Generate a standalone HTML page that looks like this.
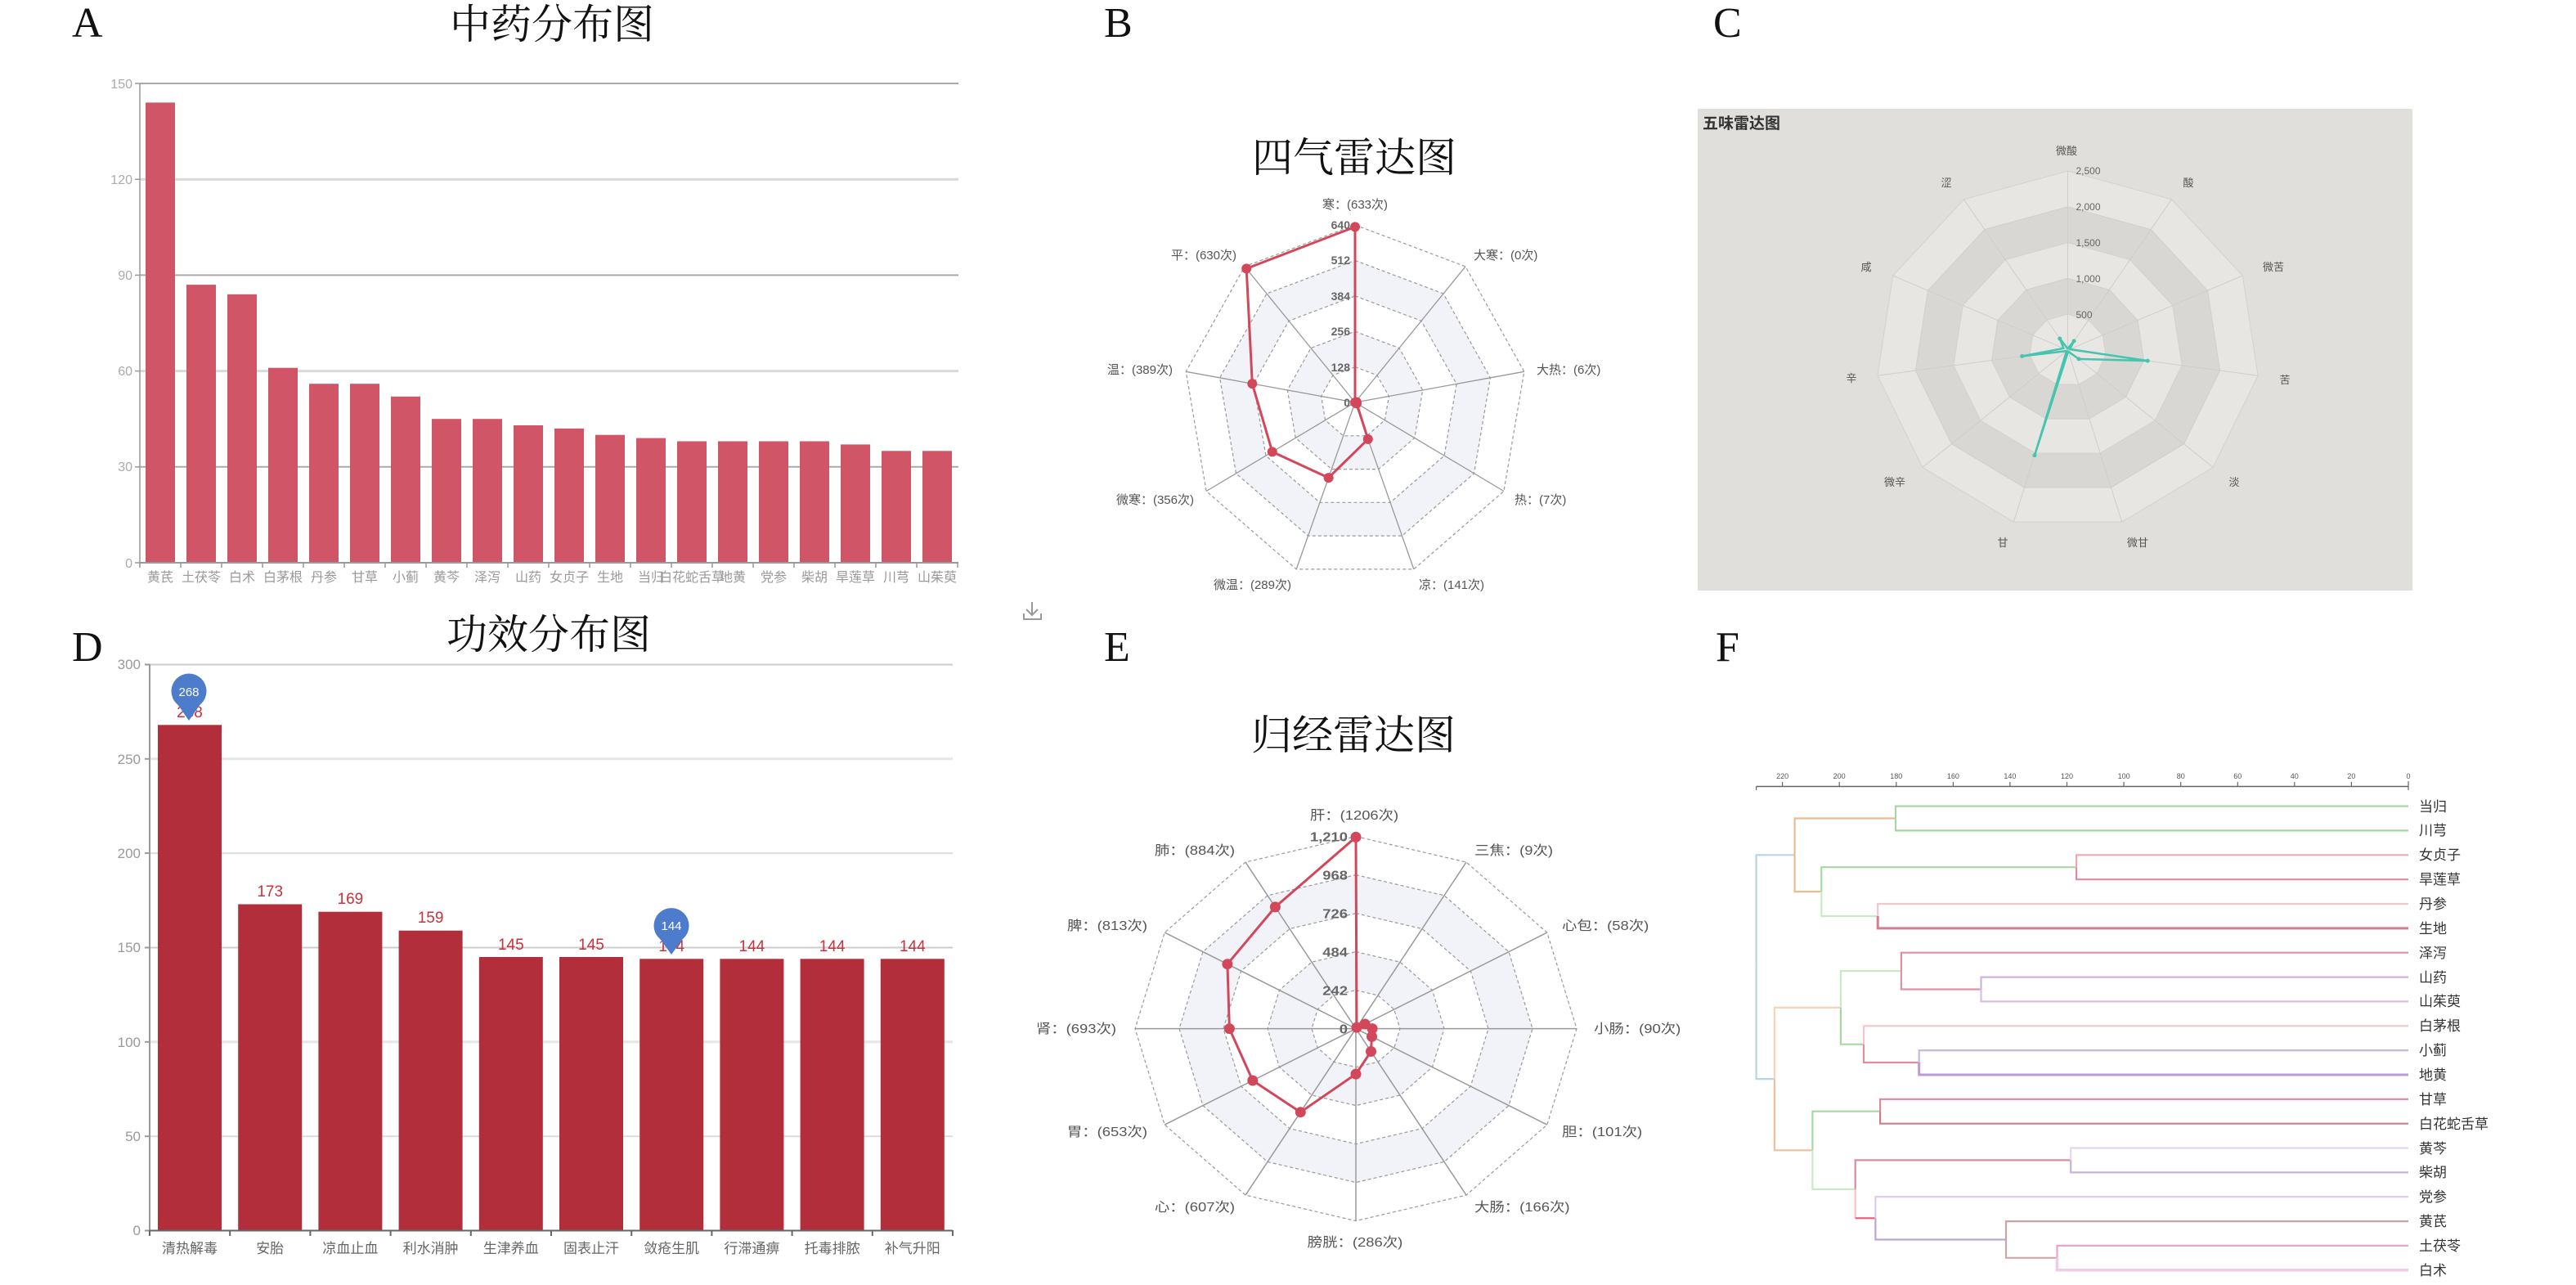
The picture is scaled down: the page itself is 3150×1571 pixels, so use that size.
<!DOCTYPE html>
<html><head><meta charset="utf-8"><style>
html,body{margin:0;padding:0;background:#fff;}
svg{display:block;}
.s{font-family:"Liberation Sans","Noto Sans CJK SC",sans-serif;}
.t{font-family:"Liberation Serif","Noto Serif CJK SC",serif;}
</style></head><body>
<svg width="3150" height="1571" viewBox="0 0 3150 1571" xmlns="http://www.w3.org/2000/svg">
<rect width="3150" height="1571" fill="#fff"/>

<!-- Panel letters -->
<g class="t" font-size="52" fill="#111">
<text x="88" y="45">A</text>
<text x="1350" y="45">B</text>
<text x="2095" y="45">C</text>
<text x="88" y="808">D</text>
<text x="1350" y="808">E</text>
<text x="2098" y="808">F</text>
</g>
<!-- Titles -->
<g class="t" font-size="50" fill="#111" text-anchor="middle">
<text x="675" y="47">中药分布图</text>
<text x="1656" y="210">四气雷达图</text>
<text x="671" y="793">功效分布图</text>
<text x="1655" y="916">归经雷达图</text>
</g>

<!-- ================= PANEL A ================= -->
<g>
<line x1="171" y1="102" x2="1172" y2="102" stroke="#aaa" stroke-width="2"/>
<line x1="171" y1="219.2" x2="1172" y2="219.2" stroke="#d9d9d9" stroke-width="3"/>
<line x1="171" y1="336.4" x2="1172" y2="336.4" stroke="#aaa" stroke-width="2"/>
<line x1="171" y1="453.6" x2="1172" y2="453.6" stroke="#d9d9d9" stroke-width="3"/>
<line x1="171" y1="570.8" x2="1172" y2="570.8" stroke="#aaa" stroke-width="2"/>
<g stroke="#999" stroke-width="1.5">
<line x1="171" y1="102" x2="171" y2="690"/>
<line x1="165" y1="102" x2="171" y2="102"/><line x1="165" y1="219.2" x2="171" y2="219.2"/>
<line x1="165" y1="336.4" x2="171" y2="336.4"/><line x1="165" y1="453.6" x2="171" y2="453.6"/>
<line x1="165" y1="570.8" x2="171" y2="570.8"/><line x1="165" y1="688" x2="171" y2="688"/>
</g>
<g class="s" font-size="16" fill="#aaa" text-anchor="end">
<text x="162" y="108">150</text><text x="162" y="225">120</text><text x="162" y="342">90</text>
<text x="162" y="459">60</text><text x="162" y="576">30</text><text x="162" y="694">0</text>
</g>
<g fill="#d05566">
<rect x="178" y="125.4" width="36" height="562.6"/>
<rect x="228" y="348.1" width="36" height="339.9"/>
<rect x="278" y="359.8" width="36" height="328.2"/>
<rect x="328" y="449.7" width="36" height="238.3"/>
<rect x="378" y="469.2" width="36" height="218.8"/>
<rect x="428" y="469.2" width="36" height="218.8"/>
<rect x="478" y="484.8" width="36" height="203.2"/>
<rect x="528" y="512.2" width="36" height="175.8"/>
<rect x="578" y="512.2" width="36" height="175.8"/>
<rect x="628" y="520" width="36" height="168"/>
<rect x="678" y="523.9" width="36" height="164.1"/>
<rect x="728" y="531.7" width="36" height="156.3"/>
<rect x="778" y="535.6" width="36" height="152.4"/>
<rect x="828" y="539.5" width="36" height="148.5"/>
<rect x="878" y="539.5" width="36" height="148.5"/>
<rect x="928" y="539.5" width="36" height="148.5"/>
<rect x="978" y="539.5" width="36" height="148.5"/>
<rect x="1028" y="543.4" width="36" height="144.6"/>
<rect x="1078" y="551.3" width="36" height="136.7"/>
<rect x="1128" y="551.3" width="36" height="136.7"/>
</g>
<line x1="171" y1="688" x2="1172" y2="688" stroke="#999" stroke-width="2"/>
<g stroke="#999" stroke-width="1.5">
<line x1="171" y1="688" x2="171" y2="694"/><line x1="221" y1="688" x2="221" y2="694"/><line x1="271" y1="688" x2="271" y2="694"/><line x1="321" y1="688" x2="321" y2="694"/><line x1="371" y1="688" x2="371" y2="694"/><line x1="421" y1="688" x2="421" y2="694"/><line x1="471" y1="688" x2="471" y2="694"/><line x1="521" y1="688" x2="521" y2="694"/><line x1="571" y1="688" x2="571" y2="694"/><line x1="621" y1="688" x2="621" y2="694"/><line x1="671" y1="688" x2="671" y2="694"/><line x1="721" y1="688" x2="721" y2="694"/><line x1="771" y1="688" x2="771" y2="694"/><line x1="821" y1="688" x2="821" y2="694"/><line x1="871" y1="688" x2="871" y2="694"/><line x1="921" y1="688" x2="921" y2="694"/><line x1="971" y1="688" x2="971" y2="694"/><line x1="1021" y1="688" x2="1021" y2="694"/><line x1="1071" y1="688" x2="1071" y2="694"/><line x1="1121" y1="688" x2="1121" y2="694"/><line x1="1171" y1="688" x2="1171" y2="694"/>
</g>
<g class="s" font-size="16" fill="#999" text-anchor="middle">
<text x="196" y="711">黄芪</text><text x="246" y="711">土茯苓</text><text x="296" y="711">白术</text>
<text x="346" y="711">白茅根</text><text x="396" y="711">丹参</text><text x="446" y="711">甘草</text>
<text x="496" y="711">小蓟</text><text x="546" y="711">黄芩</text><text x="596" y="711">泽泻</text>
<text x="646" y="711">山药</text><text x="696" y="711">女贞子</text><text x="746" y="711">生地</text>
<text x="796" y="711">当归</text><text x="846" y="711">白花蛇舌草</text><text x="896" y="711">地黄</text>
<text x="946" y="711">党参</text><text x="996" y="711">柴胡</text><text x="1046" y="711">旱莲草</text>
<text x="1096" y="711">川芎</text><text x="1146" y="711">山茱萸</text>
</g>
</g>

<!-- ================= PANEL B ================= -->
<g transform="translate(1657,492)">
<polygon points="0,-217 135,-166.2 206.8,-37.7 181.9,108.5 71.8,203.9 -71.8,203.9 -181.9,108.5 -206.8,-37.7 -135,-166.2" fill="#fff" stroke="#999" stroke-width="1.2" stroke-dasharray="4,3"/>
<polygon points="0,-173.6 108,-133 165.4,-30.2 145.5,86.8 57.4,163.1 -57.4,163.1 -145.5,86.8 -165.4,-30.2 -108,-133" fill="#f2f3f9" stroke="#999" stroke-width="1.2" stroke-dasharray="4,3"/>
<polygon points="0,-130.2 81,-99.7 124.1,-22.6 109.1,65.1 43.1,122.3 -43.1,122.3 -109.1,65.1 -124.1,-22.6 -81,-99.7" fill="#fff" stroke="#999" stroke-width="1.2" stroke-dasharray="4,3"/>
<polygon points="0,-86.8 54,-66.5 82.7,-15.1 72.8,43.4 28.7,81.6 -28.7,81.6 -72.8,43.4 -82.7,-15.1 -54,-66.5" fill="#f2f3f9" stroke="#999" stroke-width="1.2" stroke-dasharray="4,3"/>
<polygon points="0,-43.4 27,-33.2 41.4,-7.5 36.4,21.7 14.4,40.8 -14.4,40.8 -36.4,21.7 -41.4,-7.5 -27,-33.2" fill="#fff" stroke="#999" stroke-width="1.2" stroke-dasharray="4,3"/>
<g stroke="#999" stroke-width="1.3">
<line x1="0" y1="0" x2="0" y2="-217"/><line x1="0" y1="0" x2="135" y2="-166.2"/><line x1="0" y1="0" x2="206.8" y2="-37.7"/>
<line x1="0" y1="0" x2="181.9" y2="108.5"/><line x1="0" y1="0" x2="71.8" y2="203.9"/><line x1="0" y1="0" x2="-71.8" y2="203.9"/>
<line x1="0" y1="0" x2="-181.9" y2="108.5"/><line x1="0" y1="0" x2="-206.8" y2="-37.7"/><line x1="0" y1="0" x2="-135" y2="-166.2"/>
</g>
<g class="s" font-size="14" font-weight="bold" fill="#666" text-anchor="end">
<text x="-6" y="5">0</text><text x="-6" y="-38">128</text><text x="-6" y="-82">256</text>
<text x="-6" y="-125">384</text><text x="-6" y="-169">512</text><text x="-6" y="-212">640</text>
</g>
<polygon points="0,-214.6 0,0 1.9,-0.4 2,1.2 15.8,44.9 -32.4,92.1 -101.2,60.4 -125.7,-22.9 -132.8,-163.6" fill="none" stroke="#d2485a" stroke-width="3" stroke-linejoin="round"/>
<g fill="#d2485a">
<circle cx="0" cy="-214.6" r="6"/><circle cx="0" cy="0" r="6"/><circle cx="1.9" cy="-0.4" r="6"/><circle cx="2" cy="1.2" r="6"/>
<circle cx="15.8" cy="44.9" r="6"/><circle cx="-32.4" cy="92.1" r="6"/><circle cx="-101.2" cy="60.4" r="6"/>
<circle cx="-125.7" cy="-22.9" r="6"/><circle cx="-132.8" cy="-163.6" r="6"/>
</g>
</g>
<g class="s" font-size="15" fill="#555">
<text x="1657" y="255" text-anchor="middle">寒：(633次)</text>
<text x="1802" y="317">大寒：(0次)</text>
<text x="1879" y="457">大热：(6次)</text>
<text x="1852" y="616">热：(7次)</text>
<text x="1735" y="720">凉：(141次)</text>
<text x="1579" y="720" text-anchor="end">微温：(289次)</text>
<text x="1460" y="616" text-anchor="end">微寒：(356次)</text>
<text x="1434" y="457" text-anchor="end">温：(389次)</text>
<text x="1512" y="317" text-anchor="end">平：(630次)</text>
</g>

<!-- download icon -->
<g stroke="#999" stroke-width="2" fill="none">
<line x1="1262" y1="736" x2="1262" y2="752"/>
<polyline points="1255,745 1262,752 1269,745"/>
<polyline points="1252,750 1252,757 1273,757 1273,750"/>
</g>

<!-- ================= PANEL C ================= -->
<rect x="2076" y="133" width="874" height="589" fill="#e0dfdb"/>
<text class="s" x="2082" y="157" font-size="19" font-weight="bold" fill="#333">五味雷达图</text>
<g transform="translate(2528.5,428)">
<polygon points="0,-219 127,-184.2 213.8,-91 232.6,31.2 177.6,143.4 66.2,210.1 -66.2,210.1 -177.6,143.4 -232.6,31.2 -213.8,-91 -127,-184.2" fill="#e7e6e2" stroke="#d3d2ce" stroke-width="1"/>
<polygon points="0,-175.2 101.6,-147.4 171,-72.8 186.1,25 142.1,114.7 53,168.1 -53,168.1 -142.1,114.7 -186.1,25 -171,-72.8 -101.6,-147.4" fill="#d8d7d3" stroke="#d0cfcb" stroke-width="1"/>
<polygon points="0,-131.4 76.2,-110.5 128.3,-54.6 139.6,18.7 106.6,86 39.7,126.1 -39.7,126.1 -106.6,86 -139.6,18.7 -128.3,-54.6 -76.2,-110.5" fill="#e7e6e2" stroke="#d3d2ce" stroke-width="1"/>
<polygon points="0,-87.6 50.8,-73.7 85.5,-36.4 93,12.5 71,57.4 26.5,84 -26.5,84 -71,57.4 -93,12.5 -85.5,-36.4 -50.8,-73.7" fill="#d8d7d3" stroke="#d0cfcb" stroke-width="1"/>
<polygon points="0,-43.8 25.4,-36.8 42.8,-18.2 46.5,6.2 35.5,28.7 13.2,42 -13.2,42 -35.5,28.7 -46.5,6.2 -42.8,-18.2 -25.4,-36.8" fill="#e8e7e3" stroke="#d3d2ce" stroke-width="1"/>
<g stroke="#cfcecb" stroke-width="1">
<line x1="0" y1="0" x2="0" y2="-219"/><line x1="0" y1="0" x2="127" y2="-184.2"/><line x1="0" y1="0" x2="213.8" y2="-91"/>
<line x1="0" y1="0" x2="232.6" y2="31.2"/><line x1="0" y1="0" x2="177.6" y2="143.4"/><line x1="0" y1="0" x2="66.2" y2="210.1"/>
<line x1="0" y1="0" x2="-66.2" y2="210.1"/><line x1="0" y1="0" x2="-177.6" y2="143.4"/><line x1="0" y1="0" x2="-232.6" y2="31.2"/>
<line x1="0" y1="0" x2="-213.8" y2="-91"/><line x1="0" y1="0" x2="-127" y2="-184.2"/>
</g>
<g class="s" font-size="12" fill="#666">
<text x="10" y="-39">500</text><text x="10" y="-83">1,000</text><text x="10" y="-127">1,500</text>
<text x="10" y="-171">2,000</text><text x="10" y="-215">2,500</text>
</g>
<polygon points="0,-1.8 7.6,-11.1 2.6,-1.1 97.7,13.1 13.5,10.9 0.5,1.7 -40.5,128.6 -1.4,1.1 -55.8,7.5 -5.1,-2.2 -9.7,-14" fill="none" stroke="#45c4b0" stroke-width="2.5" stroke-linejoin="round"/>
<g fill="#45c4b0">
<circle cx="7.6" cy="-11.1" r="2.5"/><circle cx="97.7" cy="13.1" r="2.5"/><circle cx="13.5" cy="10.9" r="2.5"/>
<circle cx="-40.5" cy="128.6" r="2.5"/><circle cx="-55.8" cy="7.5" r="2.5"/><circle cx="-9.7" cy="-14" r="2.5"/>
</g>
</g>
<g class="s" font-size="13" fill="#555" text-anchor="middle">
<text x="2527" y="189">微酸</text><text x="2676" y="228">酸</text><text x="2780" y="331">微苦</text>
<text x="2794" y="469">苦</text><text x="2732" y="594">淡</text><text x="2614" y="668">微甘</text>
<text x="2449" y="668">甘</text><text x="2317" y="594">微辛</text><text x="2264" y="467">辛</text>
<text x="2282" y="331">咸</text><text x="2380" y="228">涩</text>
</g>

<!-- ================= PANEL D ================= -->
<g>
<line x1="183" y1="812.5" x2="1165" y2="812.5" stroke="#ccc" stroke-width="2"/>
<line x1="183" y1="927.8" x2="1165" y2="927.8" stroke="#e6e6e6" stroke-width="3"/>
<line x1="183" y1="1043.1" x2="1165" y2="1043.1" stroke="#dcdcdc" stroke-width="2"/>
<line x1="183" y1="1158.5" x2="1165" y2="1158.5" stroke="#ccc" stroke-width="2"/>
<line x1="183" y1="1273.8" x2="1165" y2="1273.8" stroke="#e6e6e6" stroke-width="3"/>
<line x1="183" y1="1389.2" x2="1165" y2="1389.2" stroke="#dcdcdc" stroke-width="2"/>
<g stroke="#999" stroke-width="2">
<line x1="183" y1="812" x2="183" y2="1506"/>
<line x1="177" y1="812.5" x2="183" y2="812.5"/><line x1="177" y1="927.8" x2="183" y2="927.8"/>
<line x1="177" y1="1043.1" x2="183" y2="1043.1"/><line x1="177" y1="1158.5" x2="183" y2="1158.5"/>
<line x1="177" y1="1273.8" x2="183" y2="1273.8"/><line x1="177" y1="1389.2" x2="183" y2="1389.2"/>
<line x1="177" y1="1504.5" x2="183" y2="1504.5"/>
</g>
<g class="s" font-size="17" fill="#999" text-anchor="end">
<text x="172" y="818">300</text><text x="172" y="934">250</text><text x="172" y="1049">200</text>
<text x="172" y="1164">150</text><text x="172" y="1280">100</text><text x="172" y="1395">50</text><text x="172" y="1510">0</text>
</g>
<g fill="#b22e3a">
<rect x="193" y="886.3" width="78" height="618.2"/>
<rect x="291.2" y="1105.5" width="78" height="399"/>
<rect x="389.4" y="1114.7" width="78" height="389.8"/>
<rect x="487.6" y="1137.7" width="78" height="366.8"/>
<rect x="585.8" y="1170" width="78" height="334.5"/>
<rect x="684" y="1170" width="78" height="334.5"/>
<rect x="782.2" y="1172.3" width="78" height="332.2"/>
<rect x="880.4" y="1172.3" width="78" height="332.2"/>
<rect x="978.6" y="1172.3" width="78" height="332.2"/>
<rect x="1076.8" y="1172.3" width="78" height="332.2"/>
</g>
<line x1="183" y1="1504.5" x2="1165" y2="1504.5" stroke="#666" stroke-width="2"/>
<g stroke="#666" stroke-width="2">
<line x1="183" y1="1504" x2="183" y2="1511"/><line x1="281.2" y1="1504" x2="281.2" y2="1511"/><line x1="379.4" y1="1504" x2="379.4" y2="1511"/><line x1="477.6" y1="1504" x2="477.6" y2="1511"/><line x1="575.8" y1="1504" x2="575.8" y2="1511"/><line x1="674" y1="1504" x2="674" y2="1511"/><line x1="772.2" y1="1504" x2="772.2" y2="1511"/><line x1="870.4" y1="1504" x2="870.4" y2="1511"/><line x1="968.6" y1="1504" x2="968.6" y2="1511"/><line x1="1066.8" y1="1504" x2="1066.8" y2="1511"/><line x1="1165" y1="1504" x2="1165" y2="1511"/>
</g>
<g class="s" font-size="19" fill="#c8323c" text-anchor="middle">
<text x="232" y="877">268</text><text x="330.2" y="1096">173</text><text x="428.4" y="1105">169</text>
<text x="526.6" y="1128">159</text><text x="624.8" y="1161">145</text><text x="723" y="1161">145</text>
<text x="821.2" y="1163">144</text><text x="919.4" y="1163">144</text><text x="1017.6" y="1163">144</text><text x="1115.8" y="1163">144</text>
</g>
<g fill="#4d7ccc">
<circle cx="231" cy="845" r="21.5"/><path d="M215,858 L247,858 L231,881 Z"/>
<circle cx="821" cy="1131.6" r="21.5"/><path d="M805,1145 L837,1145 L821,1167 Z"/>
</g>
<g class="s" font-size="15" fill="#fff" text-anchor="middle">
<text x="231" y="851">268</text><text x="821" y="1137">144</text>
</g>
<g class="s" font-size="17" fill="#666" text-anchor="middle">
<text x="232" y="1532">清热解毒</text><text x="330.2" y="1532">安胎</text><text x="428.4" y="1532">凉血止血</text>
<text x="526.6" y="1532">利水消肿</text><text x="624.8" y="1532">生津养血</text><text x="723" y="1532">固表止汗</text>
<text x="821.2" y="1532">敛疮生肌</text><text x="919.4" y="1532">行滞通痹</text><text x="1017.6" y="1532">托毒排脓</text>
<text x="1115.8" y="1532">补气升阳</text>
</g>
</g>

<!-- ================= PANEL E ================= -->
<g transform="translate(1658,1257.6)">
<polygon points="0,-235 135,-203.5 233.8,-117.5 270,0 233.8,117.5 135,203.5 0,235 -135,203.5 -233.8,117.5 -270,0 -233.8,-117.5 -135,-203.5" fill="#fff" stroke="#999" stroke-width="1.2" stroke-dasharray="4,3"/>
<polygon points="0,-188 108,-162.8 187,-94 216,0 187,94 108,162.8 0,188 -108,162.8 -187,94 -216,0 -187,-94 -108,-162.8" fill="#f2f3f9" stroke="#999" stroke-width="1.2" stroke-dasharray="4,3"/>
<polygon points="0,-141 81,-122.1 140.3,-70.5 162,0 140.3,70.5 81,122.1 0,141 -81,122.1 -140.3,70.5 -162,0 -140.3,-70.5 -81,-122.1" fill="#fff" stroke="#999" stroke-width="1.2" stroke-dasharray="4,3"/>
<polygon points="0,-94 54,-81.4 93.5,-47 108,0 93.5,47 54,81.4 0,94 -54,81.4 -93.5,47 -108,0 -93.5,-47 -54,-81.4" fill="#f2f3f9" stroke="#999" stroke-width="1.2" stroke-dasharray="4,3"/>
<polygon points="0,-47 27,-40.7 46.8,-23.5 54,0 46.8,23.5 27,40.7 0,47 -27,40.7 -46.8,23.5 -54,0 -46.8,-23.5 -27,-40.7" fill="#fff" stroke="#999" stroke-width="1.2" stroke-dasharray="4,3"/>
<g stroke="#999" stroke-width="1.5">
<line x1="0" y1="0" x2="0" y2="-235"/><line x1="0" y1="0" x2="135" y2="-203.5"/><line x1="0" y1="0" x2="233.8" y2="-117.5"/>
<line x1="0" y1="0" x2="270" y2="0"/><line x1="0" y1="0" x2="233.8" y2="117.5"/><line x1="0" y1="0" x2="135" y2="203.5"/>
<line x1="0" y1="0" x2="0" y2="235"/><line x1="0" y1="0" x2="-135" y2="203.5"/><line x1="0" y1="0" x2="-233.8" y2="117.5"/>
<line x1="0" y1="0" x2="-270" y2="0"/><line x1="0" y1="0" x2="-233.8" y2="-117.5"/><line x1="0" y1="0" x2="-135" y2="-203.5"/>
</g>
<g class="s" font-size="16" font-weight="bold" fill="#666" text-anchor="end">
<text transform="translate(-10,6) scale(1.15,1)">0</text>
<text transform="translate(-10,-41) scale(1.15,1)">242</text>
<text transform="translate(-10,-88) scale(1.15,1)">484</text>
<text transform="translate(-10,-135) scale(1.15,1)">726</text>
<text transform="translate(-10,-182) scale(1.15,1)">968</text>
<text transform="translate(-10,-229) scale(1.15,1)">1,210</text>
</g>
<polygon points="0,-234.2 1,-1.5 11.2,-5.6 20.1,0 19.5,9.8 18.5,27.9 0,55.5 -67.7,102.1 -126.2,63.4 -154.6,0 -157.1,-78.9 -98.6,-148.7" fill="none" stroke="#d2485a" stroke-width="3" stroke-linejoin="round"/>
<g fill="#d2485a">
<circle cx="0" cy="-234.2" r="6.5"/><circle cx="1" cy="-1.5" r="6.5"/><circle cx="11.2" cy="-5.6" r="6.5"/>
<circle cx="20.1" cy="0" r="6.5"/><circle cx="19.5" cy="9.8" r="6.5"/><circle cx="18.5" cy="27.9" r="6.5"/>
<circle cx="0" cy="55.5" r="6.5"/><circle cx="-67.7" cy="102.1" r="6.5"/><circle cx="-126.2" cy="63.4" r="6.5"/>
<circle cx="-154.6" cy="0" r="6.5"/><circle cx="-157.1" cy="-78.9" r="6.5"/><circle cx="-98.6" cy="-148.7" r="6.5"/>
</g>
</g>
<g class="s" font-size="16" fill="#555">
<text transform="translate(1656,1002) scale(1.15,1)" text-anchor="middle">肝：(1206次)</text>
<text transform="translate(1803,1045) scale(1.15,1)">三焦：(9次)</text>
<text transform="translate(1910,1137) scale(1.15,1)">心包：(58次)</text>
<text transform="translate(1949,1263) scale(1.15,1)">小肠：(90次)</text>
<text transform="translate(1910,1389) scale(1.15,1)">胆：(101次)</text>
<text transform="translate(1803,1481) scale(1.15,1)">大肠：(166次)</text>
<text transform="translate(1657,1524) scale(1.15,1)" text-anchor="middle">膀胱：(286次)</text>
<text transform="translate(1510,1481) scale(1.15,1)" text-anchor="end">心：(607次)</text>
<text transform="translate(1403,1389) scale(1.15,1)" text-anchor="end">胃：(653次)</text>
<text transform="translate(1365,1263) scale(1.15,1)" text-anchor="end">肾：(693次)</text>
<text transform="translate(1403,1137) scale(1.15,1)" text-anchor="end">脾：(813次)</text>
<text transform="translate(1510,1045) scale(1.15,1)" text-anchor="end">肺：(884次)</text>
</g>

<!-- ================= PANEL F ================= -->
<g>
<line x1="2147.6" y1="961.5" x2="2945" y2="961.5" stroke="#666" stroke-width="1.5"/>
<g stroke="#666" stroke-width="1.2">
<line x1="2147.6" y1="961.5" x2="2147.6" y2="966"/><line x1="2945" y1="955" x2="2945" y2="966"/>
<line x1="2179.6" y1="956" x2="2179.6" y2="961.5"/><line x1="2249.2" y1="956" x2="2249.2" y2="961.5"/>
<line x1="2318.8" y1="956" x2="2318.8" y2="961.5"/><line x1="2388.4" y1="956" x2="2388.4" y2="961.5"/>
<line x1="2457.9" y1="956" x2="2457.9" y2="961.5"/><line x1="2527.5" y1="956" x2="2527.5" y2="961.5"/>
<line x1="2597.1" y1="956" x2="2597.1" y2="961.5"/><line x1="2666.7" y1="956" x2="2666.7" y2="961.5"/>
<line x1="2736.3" y1="956" x2="2736.3" y2="961.5"/><line x1="2805.8" y1="956" x2="2805.8" y2="961.5"/>
<line x1="2875.4" y1="956" x2="2875.4" y2="961.5"/>
</g>
<g class="s" font-size="9" fill="#555" text-anchor="middle">
<text x="2179.6" y="952">220</text><text x="2249.2" y="952">200</text><text x="2318.8" y="952">180</text>
<text x="2388.4" y="952">160</text><text x="2457.9" y="952">140</text><text x="2527.5" y="952">120</text>
<text x="2597.1" y="952">100</text><text x="2666.7" y="952">80</text><text x="2736.3" y="952">60</text>
<text x="2805.8" y="952">40</text><text x="2875.4" y="952">20</text><text x="2945" y="952">0</text>
</g>
<g fill="none" stroke-width="2.2">
<path d="M2147.6,1182.2 V1045.3 H2194.6" stroke="#b7d4e6"/>
<path d="M2147.6,1182.2 V1319.1 H2169.9" stroke="#b7d4e6"/>
<path d="M2194.6,1045.3 V1000.5 H2318" stroke="#f0b990"/>
<path d="M2194.6,1045.3 V1090.1 H2227.3" stroke="#f0b990"/>
<path d="M2318,1000.5 V985.6 H2945" stroke="#a6d9a0"/>
<path d="M2318,1000.5 V1015.4 H2945" stroke="#a6d9a0"/>
<path d="M2227.3,1090.1 V1060.2 H2539.1" stroke="#a6d9a0"/>
<path d="M2227.3,1090.1 V1120 H2296.2" stroke="#c8ebc4"/>
<path d="M2539.1,1060.2 V1045.3 H2945" stroke="#eba8b6"/>
<path d="M2539.1,1060.2 V1075.2 H2945" stroke="#de8c9c"/>
<path d="M2296.2,1120 V1105 H2945" stroke="#f2c4cc"/>
<path d="M2296.2,1120 V1134.9 H2945" stroke="#d97a8e" stroke-width="3"/>
<path d="M2169.9,1319.1 V1231.9 H2250.9" stroke="#f8d3b4"/>
<path d="M2169.9,1319.1 V1406.3 H2216.4" stroke="#f3bf98"/>
<path d="M2250.9,1231.9 V1187.1 H2324.9" stroke="#c8ebc4"/>
<path d="M2250.9,1231.9 V1276.7 H2279" stroke="#a6d9a0"/>
<path d="M2324.9,1187.1 V1164.7 H2945" stroke="#e08d9e"/>
<path d="M2324.9,1187.1 V1209.5 H2422.5" stroke="#d995a3"/>
<path d="M2422.5,1209.5 V1194.6 H2945" stroke="#cfb2e0"/>
<path d="M2422.5,1209.5 V1224.4 H2945" stroke="#d5bfe6"/>
<path d="M2279,1276.7 V1254.3 H2945" stroke="#f2c4cc"/>
<path d="M2279,1276.7 V1299 H2346.7" stroke="#e08d9e"/>
<path d="M2346.7,1299 V1284.1 H2945" stroke="#cdb6e0"/>
<path d="M2346.7,1299 V1314 H2945" stroke="#b99bd6" stroke-width="3"/>
<path d="M2216.4,1406.3 V1358.7 H2299.1" stroke="#a6d9a0"/>
<path d="M2216.4,1406.3 V1453.9 H2268.7" stroke="#c8ebc4"/>
<path d="M2299.1,1358.7 V1343.8 H2945" stroke="#d98a9a"/>
<path d="M2299.1,1358.7 V1373.7 H2945" stroke="#c7808f"/>
<path d="M2268.7,1453.9 V1418.4 H2532.2" stroke="#dd8a9b"/>
<path d="M2268.7,1453.9 V1489.3" stroke="#f2c4cc"/>
<path d="M2268.7,1489.3 H2293.4" stroke="#e06078"/>
<path d="M2532.2,1418.4 V1403.5 H2945" stroke="#e4d8ef"/>
<path d="M2532.2,1418.4 V1433.4 H2945" stroke="#c9b3dc"/>
<path d="M2293.4,1489.3 V1463.2 H2945" stroke="#dccbec"/>
<path d="M2293.4,1489.3 V1515.5 H2453" stroke="#bda6d0"/>
<path d="M2453,1515.5 V1493.1 H2945" stroke="#c9a4a4"/>
<path d="M2453,1515.5 V1537.8 H2515.5" stroke="#cba8a8"/>
<path d="M2515.5,1537.8 V1522.9 H2945" stroke="#e0a6d8"/>
<path d="M2515.5,1537.8 V1552.8 H2945" stroke="#f0cbe8" stroke-width="3.5"/>
</g>
<g class="s" font-size="17" fill="#333">
<text x="2958" y="992">当归</text><text x="2958" y="1021">川芎</text><text x="2958" y="1051">女贞子</text>
<text x="2958" y="1081">旱莲草</text><text x="2958" y="1111">丹参</text><text x="2958" y="1141">生地</text>
<text x="2958" y="1171">泽泻</text><text x="2958" y="1201">山药</text><text x="2958" y="1230">山茱萸</text>
<text x="2958" y="1260">白茅根</text><text x="2958" y="1290">小蓟</text><text x="2958" y="1320">地黄</text>
<text x="2958" y="1350">甘草</text><text x="2958" y="1380">白花蛇舌草</text><text x="2958" y="1410">黄芩</text>
<text x="2958" y="1439">柴胡</text><text x="2958" y="1469">党参</text><text x="2958" y="1499">黄芪</text>
<text x="2958" y="1529">土茯苓</text><text x="2958" y="1559">白术</text>
</g>
</g>
</svg>
</body></html>
